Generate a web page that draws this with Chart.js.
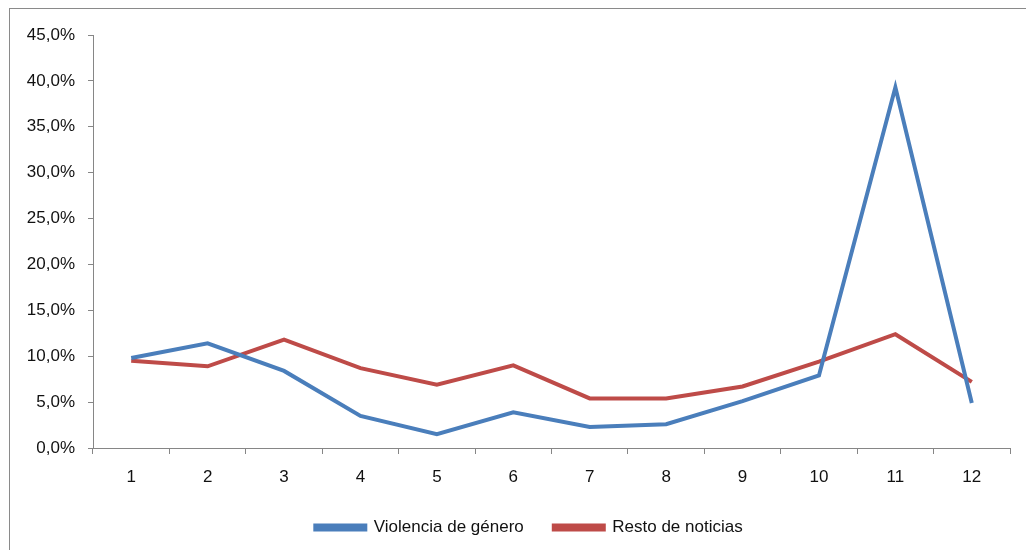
<!DOCTYPE html>
<html>
<head>
<meta charset="utf-8">
<script src="https://cdn.jsdelivr.net/npm/chart.js@4"></script>
<style>
  html, body { margin: 0; padding: 0; background: #fff; overflow: hidden; }
  #wrap { position: relative; width: 1026px; height: 550px; }
  #frame { position: absolute; left: 9px; top: 8px; width: 1100px; height: 600px; border: 1px solid #8a8a8a; box-sizing: border-box; }
  canvas { position: absolute; left: 0; top: 0; }
</style>
</head>
<body>
<div id="wrap">
  <div id="frame"></div>
  <canvas id="chart" width="1026" height="550"></canvas>
</div>
<script>
// datos del gráfico
const categories = ['1', '2', '3', '4', '5', '6', '7', '8', '9', '10', '11', '12'];
const violencia = [9.8, 11.4, 8.4, 3.5, 1.5, 3.9, 2.3, 2.6, 5.1, 7.9, 39.3, 4.9];
const resto = [9.5, 8.9, 11.8, 8.7, 6.9, 9.0, 5.4, 5.4, 6.7, 9.4, 12.4, 7.2];
const seriesNames = ['Violencia de género', 'Resto de noticias'];

const AXIS = '#868686';
const FONT = 'Liberation Sans, Arial, sans-serif';

// desplaza la leyenda un poco a la derecha, como en el original
const legendShift = {
    id: 'legendShift',
    afterLayout(chart) {
        if (chart.legend) {
            chart.legend.left += 24;
            chart.legend.right += 24;
        }
    }
};

new Chart(document.getElementById('chart'), {
    type: 'line',
    data: {
        labels: categories,
        datasets: [
            {
                label: seriesNames[0],
                data: violencia,
                borderColor: '#4A7EBB',
                backgroundColor: '#4A7EBB',
                borderWidth: 4,
                pointRadius: 0,
                tension: 0
            },
            {
                label: seriesNames[1],
                data: resto,
                borderColor: '#BE4B48',
                backgroundColor: '#BE4B48',
                borderWidth: 4,
                pointRadius: 0,
                tension: 0
            }
        ]
    },
    plugins: [legendShift],
    options: {
        responsive: false,
        animation: false,
        layout: { padding: { left: 0, right: 16, top: 35, bottom: 4 } },
        plugins: {
            tooltip: { enabled: false },
            legend: {
                position: 'bottom',
                labels: {
                    color: '#111',
                    font: { family: FONT, size: 17 },
                    boxWidth: 50,
                    boxHeight: 4,
                    padding: 30
                }
            }
        },
        scales: {
            x: {
                offset: true,
                grid: { offset: true, drawOnChartArea: false, drawTicks: true, tickLength: 6, color: AXIS },
                border: { color: AXIS, width: 1 },
                ticks: { color: '#111', font: { family: FONT, size: 17 }, padding: 13, maxRotation: 0 },
                afterFit: (scale) => { scale.height = 41; }
            },
            y: {
                min: 0,
                max: 45,
                grid: { drawOnChartArea: false, drawTicks: true, tickLength: 5, color: AXIS },
                border: { color: AXIS, width: 1 },
                ticks: {
                    stepSize: 5,
                    color: '#111',
                    font: { family: FONT, size: 17 },
                    padding: 13,
                    callback: (v) => v.toFixed(1).replace('.', ',') + '%'
                },
                afterFit: (scale) => { scale.width = 93; }
            }
        }
    }
});
</script>
</body>
</html>
